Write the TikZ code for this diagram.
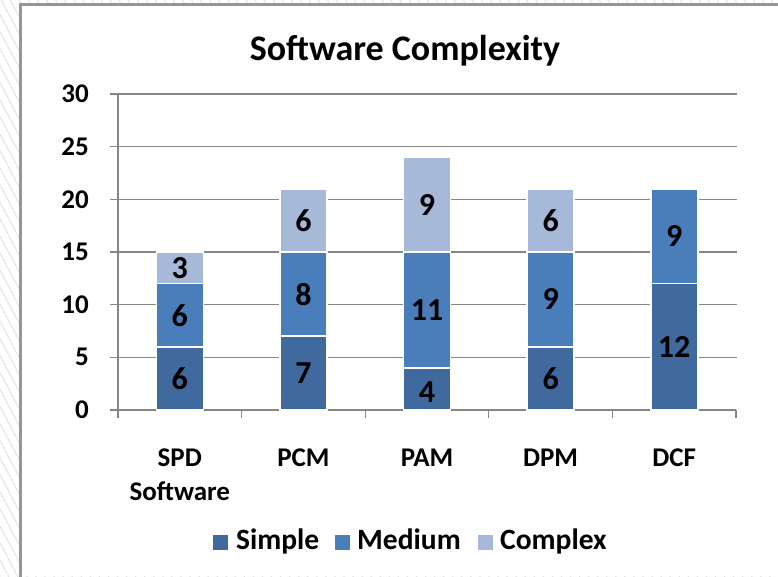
\documentclass[tikz,border=0pt]{standalone}
\usepackage{fontspec}
\setmainfont{Carlito}
\usetikzlibrary{patterns.meta}

\definecolor{simpleblue}{RGB}{64,105,158}
\definecolor{mediumblue}{RGB}{74,126,187}
\definecolor{complexblue}{RGB}{167,185,216}
\definecolor{gridgray}{RGB}{134,134,134}
\definecolor{framegray}{RGB}{150,150,150}
\definecolor{hatchgray}{RGB}{228,228,228}

\tikzset{
  gridline/.style={draw=gridgray, line width=1.3pt},
  barseg/.style={draw=white, line width=1.6pt},
  barnum/.style={font=\fontsize{32}{36}\selectfont\bfseries, inner sep=0pt},
  ticklabel/.style={font=\fontsize{27}{32}\selectfont\bfseries, anchor=east, inner sep=0pt},
  catlabel/.style={font=\fontsize{27}{34}\selectfont\bfseries, anchor=north, inner sep=0pt, align=center},
  legendkey/.style={minimum size=15pt, inner sep=0pt, anchor=south west},
  legendtext/.style={font=\fontsize{29.5}{34}\selectfont\bfseries, anchor=base west, inner sep=0pt},
}

\begin{document}
\begin{tikzpicture}[x=1pt, y=1pt]
\useasboundingbox (0,0) rectangle (778,577);
\fill[white] (0,0) rectangle (778,577);
\fill[pattern={Lines[angle=-62, distance=8pt, line width=1pt]}, pattern color=hatchgray] (0,0) rectangle (778,577);
\fill[white] (20,1) rectangle (778,572);
\draw[draw=framegray, line width=3pt] (20,0) -- (20,572) -- (778,572);

\node[font=\fontsize{36}{40}\selectfont\bfseries, anchor=base, inner sep=0pt] (title) at (405,516) {Software Complexity};

\begin{scope}[shift={(118,167)}, y=10.533pt]
  \draw[gridline] (-8,5) -- (619,5);
  \draw[gridline] (-8,10) -- (619,10);
  \draw[gridline] (-8,15) -- (619,15);
  \draw[gridline] (-8,20) -- (619,20);
  \draw[gridline] (-8,25) -- (619,25);
  \draw[gridline] (-8,30) -- (619,30);
  \draw[gridline] (-8,0) -- (618,0);
  \draw[gridline] (0,-0.75) -- (0,30);
  \draw[gridline] (123.6,0) -- (123.6,-0.75);
  \draw[gridline] (247.2,0) -- (247.2,-0.75);
  \draw[gridline] (370.8,0) -- (370.8,-0.75);
  \draw[gridline] (494.4,0) -- (494.4,-0.75);
  \draw[gridline] (618,0) -- (618,-0.75);

  \node[ticklabel] (y0) at (-29,0) {0};
  \node[ticklabel] (y5) at (-29,5) {5};
  \node[ticklabel] (y10) at (-29,10) {10};
  \node[ticklabel] (y15) at (-29,15) {15};
  \node[ticklabel] (y20) at (-29,20) {20};
  \node[ticklabel] (y25) at (-29,25) {25};
  \node[ticklabel] (y30) at (-29,30) {30};

  \filldraw[barseg, fill=simpleblue] (38.3,0) rectangle (85.3,6);
  \filldraw[barseg, fill=mediumblue] (38.3,6) rectangle (85.3,12);
  \filldraw[barseg, fill=complexblue] (38.3,12) rectangle (85.3,15);
  \node[barnum] (spd-simple) at (61.8,3) {6};
  \node[barnum] (spd-medium) at (61.8,9) {6};
  \node[barnum] (spd-complex) at (61.8,13.5) {3};

  \filldraw[barseg, fill=simpleblue] (161.9,0) rectangle (208.9,7);
  \filldraw[barseg, fill=mediumblue] (161.9,7) rectangle (208.9,15);
  \filldraw[barseg, fill=complexblue] (161.9,15) rectangle (208.9,21);
  \node[barnum] (pcm-simple) at (185.4,3.5) {7};
  \node[barnum] (pcm-medium) at (185.4,11) {8};
  \node[barnum] (pcm-complex) at (185.4,18) {6};

  \filldraw[barseg, fill=simpleblue] (285.5,0) rectangle (332.5,4);
  \filldraw[barseg, fill=mediumblue] (285.5,4) rectangle (332.5,15);
  \filldraw[barseg, fill=complexblue] (285.5,15) rectangle (332.5,24);
  \node[barnum] (pam-simple) at (309,1.7) {4};
  \node[barnum] (pam-medium) at (309,9.5) {11};
  \node[barnum] (pam-complex) at (309,19.5) {9};

  \filldraw[barseg, fill=simpleblue] (409.1,0) rectangle (456.1,6);
  \filldraw[barseg, fill=mediumblue] (409.1,6) rectangle (456.1,15);
  \filldraw[barseg, fill=complexblue] (409.1,15) rectangle (456.1,21);
  \node[barnum] (dpm-simple) at (432.6,3) {6};
  \node[barnum] (dpm-medium) at (432.6,10.5) {9};
  \node[barnum] (dpm-complex) at (432.6,18) {6};

  \filldraw[barseg, fill=simpleblue] (532.7,0) rectangle (579.7,12);
  \filldraw[barseg, fill=mediumblue] (532.7,12) rectangle (579.7,21);
  \node[barnum] (dcf-simple) at (556.2,6) {12};
  \node[barnum] (dcf-medium) at (556.2,16.5) {9};

  \node[catlabel] (cat-spd) at (61.8,-3.7) {SPD\\Software};
  \node[catlabel] (cat-pcm) at (185.4,-3.7) {PCM};
  \node[catlabel] (cat-pam) at (309,-3.7) {PAM};
  \node[catlabel] (cat-dpm) at (432.6,-3.7) {DPM};
  \node[catlabel] (cat-dcf) at (556.2,-3.7) {DCF};
\end{scope}

\node[legendkey, fill=simpleblue] (key-simple) at (213,27) {};
\node[legendtext] (txt-simple) at (236,27) {Simple};
\node[legendkey, fill=mediumblue] (key-medium) at (335,27) {};
\node[legendtext] (txt-medium) at (357,27) {Medium};
\node[legendkey, fill=complexblue] (key-complex) at (478,27) {};
\node[legendtext] (txt-complex) at (500,27) {Complex};
\end{tikzpicture}
\end{document}
